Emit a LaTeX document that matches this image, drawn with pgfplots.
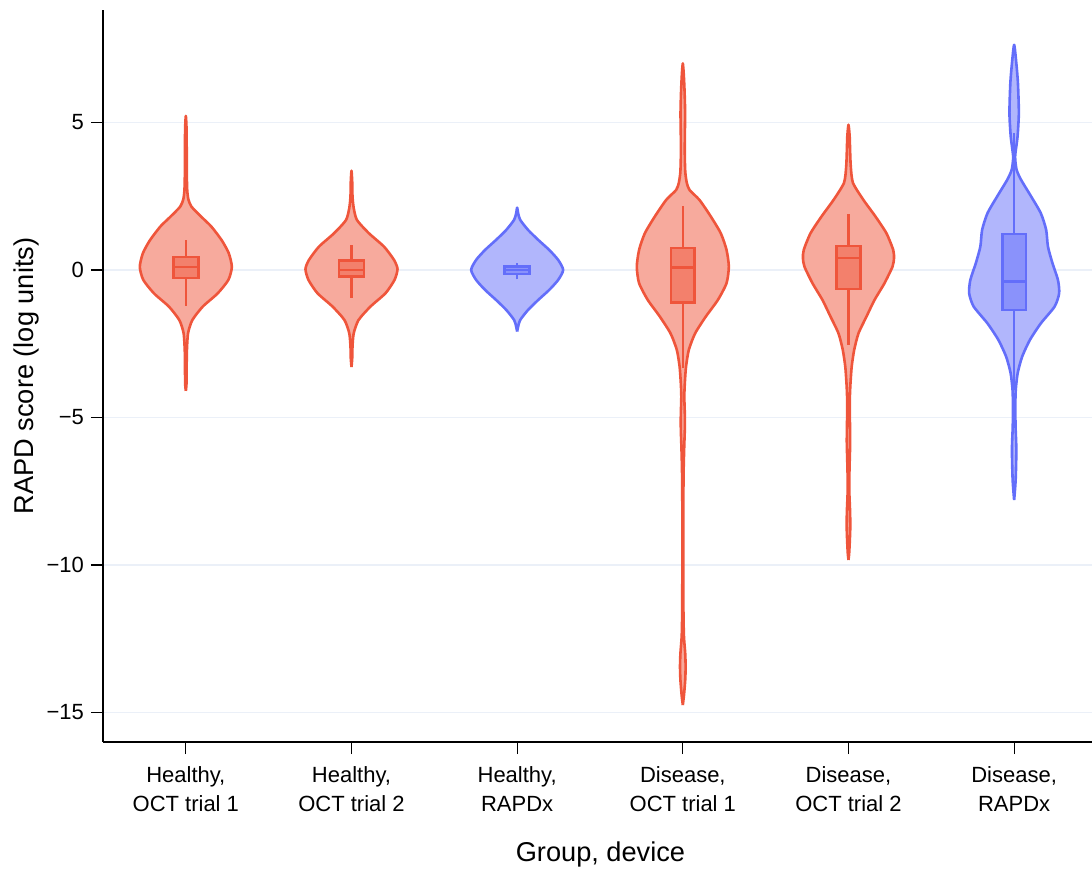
\documentclass[border=0pt]{standalone}
\usepackage{pgfplots}
\usepackage{pgfplotstable}
\pgfplotsset{compat=1.18}
\usepackage{fontspec}
\setmainfont{Liberation Sans}
\definecolor{vred}{RGB}{239,85,59}
\definecolor{vredfill}{RGB}{247,170,157}
\definecolor{vredbox}{RGB}{243,128,108}
\definecolor{vblue}{RGB}{99,110,250}
\definecolor{vbluefill}{RGB}{177,182,252}
\definecolor{vbluebox}{RGB}{138,146,251}
\definecolor{gridc}{RGB}{235,240,248}

% violin outlines: y value, half width in pixels (1 category = 165.6 px), side s
\pgfplotstableread{
y w s
-4.1 0 1
-3.9 0.6 1
-3.5 0.8 1
-2.8 1 1
-2.15 2.2 1
-1.7 6.5 1
-1.24 17 1
-0.8 31.7 1
-0.34 42.5 1
0.1 46 1
0.56 43 1
1.0 36 1
1.47 25.5 1
1.8 15.5 1
2.15 5.5 1
2.4 2.5 1
2.7 1.4 1
3.2 1 1
4.0 0.9 1
4.8 0.7 1
5.22 0 1
4.8 0.7 -1
4.0 0.9 -1
3.2 1 -1
2.7 1.4 -1
2.4 2.5 -1
2.15 5.5 -1
1.8 15.5 -1
1.47 25.5 -1
1.0 36 -1
0.56 43 -1
0.1 46 -1
-0.34 42.5 -1
-0.8 31.7 -1
-1.24 17 -1
-1.7 6.5 -1
-2.15 2.2 -1
-2.8 1 -1
-3.5 0.8 -1
-3.9 0.6 -1
-4.1 0 -1
}\vA
\pgfplotstableread{
y w s
-3.29 0 1
-3.0 0.7 1
-2.6 1 1
-2.15 2.2 1
-1.7 7 1
-1.24 19 1
-0.79 34 1
-0.34 43 1
0.03 46 1
0.34 42.5 1
0.79 32.5 1
1.24 17.5 1
1.69 5.5 1
2.1 2.2 1
2.5 1 1
3.0 0.7 1
3.36 0 1
3.0 0.7 -1
2.5 1 -1
2.1 2.2 -1
1.69 5.5 -1
1.24 17.5 -1
0.79 32.5 -1
0.34 42.5 -1
0.03 46 -1
-0.34 43 -1
-0.79 34 -1
-1.24 19 -1
-1.7 7 -1
-2.15 2.2 -1
-2.6 1 -1
-3.0 0.7 -1
-3.29 0 -1
}\vB
\pgfplotstableread{
y w s
-2.09 0 1
-1.92 1 1
-1.7 3 1
-1.36 10.8 1
-1.02 21 1
-0.68 32 1
-0.34 41 1
0.0 46 1
0.34 41 1
0.68 32 1
1.02 21 1
1.36 10.8 1
1.7 3 1
1.92 1 1
2.11 0 1
1.92 1 -1
1.7 3 -1
1.36 10.8 -1
1.02 21 -1
0.68 32 -1
0.34 41 -1
0.0 46 -1
-0.34 41 -1
-0.68 32 -1
-1.02 21 -1
-1.36 10.8 -1
-1.7 3 -1
-1.92 1 -1
-2.09 0 -1
}\vC
\pgfplotstableread{
y w s
-14.75 0 1
-14.4 1.2 1
-13.9 2.4 1
-13.45 2.8 1
-13.0 2.4 1
-12.4 1.1 1
-11.5 0.6 1
-10 0.5 1
-8 0.5 1
-6.8 0.8 1
-6.0 1.4 1
-5.4 2 1
-4.9 2 1
-4.3 1.5 1
-3.84 2 1
-3.28 3.2 1
-2.71 6 1
-2.15 12.3 1
-1.58 23 1
-1.02 35 1
-0.45 43.7 1
0.11 46 1
0.68 43.7 1
1.24 38 1
1.81 28 1
2.37 16.7 1
2.71 6.7 1
2.95 4 1
3.3 2.5 1
3.8 2 1
4.5 2 1
5.3 2.3 1
6.0 1.8 1
6.6 1 1
7.0 0 1
6.6 1 -1
6.0 1.8 -1
5.3 2.3 -1
4.5 2 -1
3.8 2 -1
3.3 2.5 -1
2.95 4 -1
2.71 6.7 -1
2.37 16.7 -1
1.81 28 -1
1.24 38 -1
0.68 43.7 -1
0.11 46 -1
-0.45 43.7 -1
-1.02 35 -1
-1.58 23 -1
-2.15 12.3 -1
-2.71 6 -1
-3.28 3.2 -1
-3.84 2 -1
-4.3 1.5 -1
-4.9 2 -1
-5.4 2 -1
-6.0 1.4 -1
-6.8 0.8 -1
-8 0.5 -1
-10 0.5 -1
-11.5 0.6 -1
-12.4 1.1 -1
-13.0 2.4 -1
-13.45 2.8 -1
-13.9 2.4 -1
-14.4 1.2 -1
-14.75 0 -1
}\vD
\pgfplotstableread{
y w s
-9.83 0 1
-9.6 0.7 1
-9.2 1.3 1
-8.7 1.8 1
-8.2 1.6 1
-7.6 0.9 1
-7.1 0.8 1
-6.5 1.2 1
-5.8 1.7 1
-5.0 1.4 1
-4.3 1.4 1
-3.84 2 1
-3.28 3.2 1
-2.71 5.7 1
-2.15 10 1
-1.58 18 1
-1.02 26 1
-0.45 36 1
0.11 44 1
0.4 45.5 1
0.68 44.7 1
1.24 38 1
1.81 27 1
2.37 15 1
2.95 4.5 1
3.5 2.3 1
4.07 1.6 1
4.52 1.2 1
4.92 0 1
4.52 1.2 -1
4.07 1.6 -1
3.5 2.3 -1
2.95 4.5 -1
2.37 15 -1
1.81 27 -1
1.24 38 -1
0.68 44.7 -1
0.4 45.5 -1
0.11 44 -1
-0.45 36 -1
-1.02 26 -1
-1.58 18 -1
-2.15 10 -1
-2.71 5.7 -1
-3.28 3.2 -1
-3.84 2 -1
-4.3 1.4 -1
-5.0 1.4 -1
-5.8 1.7 -1
-6.5 1.2 -1
-7.1 0.8 -1
-7.6 0.9 -1
-8.2 1.6 -1
-8.7 1.8 -1
-9.2 1.3 -1
-9.6 0.7 -1
-9.83 0 -1
}\vE
\pgfplotstableread{
y w s
-7.8 0 1
-7.12 1.5 1
-6.1 2.2 1
-5.3 1.4 1
-4.6 1.2 1
-4.07 1.6 1
-3.5 3.5 1
-2.94 8 1
-2.37 15.8 1
-1.81 26.7 1
-1.24 40.5 1
-0.79 45 1
-0.34 43.8 1
0.23 38.3 1
0.79 33.8 1
1.36 32 1
1.92 26.7 1
2.49 17 1
3.05 7 1
3.39 2.5 1
3.84 1 1
4.52 3.4 1
5.32 4.7 1
6.33 3.8 1
7.0 2.2 1
7.63 0 1
7.0 2.2 -1
6.33 3.8 -1
5.32 4.7 -1
4.52 3.4 -1
3.84 1 -1
3.39 2.5 -1
3.05 7 -1
2.49 17 -1
1.92 26.7 -1
1.36 32 -1
0.79 33.8 -1
0.23 38.3 -1
-0.34 43.8 -1
-0.79 45 -1
-1.24 40.5 -1
-1.81 26.7 -1
-2.37 15.8 -1
-2.94 8 -1
-3.5 3.5 -1
-4.07 1.6 -1
-4.6 1.2 -1
-5.3 1.4 -1
-6.1 2.2 -1
-7.12 1.5 -1
-7.8 0 -1
}\vF

% #1 table, #2 centre, #3 line colour, #4 fill colour
\newcommand{\violin}[4]{%
  \addplot[draw=#3, fill=#4, line width=1.3pt, smooth, tension=0.4, line join=round]
    table[x expr=#2+\thisrow{s}*\thisrow{w}/165.6, y=y]{#1};
}
% #1 centre, #2 half width, #3 lower whisker, #4 q1, #5 median, #6 q3, #7 upper whisker, #8 colour, #9 fill
\newcommand{\vbx}[9]{%
  \addplot[draw=#8, line width=1.3pt] table[row sep=\\, x expr=#1, y=y] {y\\ #3\\ #4\\};
  \addplot[draw=#8, line width=1.3pt] table[row sep=\\, x expr=#1, y=y] {y\\ #6\\ #7\\};
  \addplot[draw=#8, fill=#9, line width=1.3pt, line join=miter, line cap=rect]
    table[row sep=\\, x expr=#1+\thisrow{d}*#2, y=y] {d y\\ -1 #4\\ 1 #4\\ 1 #6\\ -1 #6\\ -1 #4\\};
  \addplot[draw=#8, line width=1.3pt]
    table[row sep=\\, x expr=#1+\thisrow{d}*#2, y=y] {d y\\ -1 #5\\ 1 #5\\};
}

\begin{document}
\begin{tikzpicture}
\path[use as bounding box] (-51.5pt,-67.5pt) rectangle (494.5pt,371pt);
\begin{axis}[
  at={(0,0)}, anchor=south west,
  scale only axis,
  width=494.5pt, height=366pt,
  xmin=-0.5, xmax=5.47,
  ymin=-16.0, ymax=8.81,
  axis x line*=bottom, axis y line*=left,
  axis line style={line width=0.9pt, black},
  xtick={0,1,2,3,4,5},
  xticklabels={{Healthy,\\OCT trial 1},{Healthy,\\OCT trial 2},{Healthy,\\RAPDx},{Disease,\\OCT trial 1},{Disease,\\OCT trial 2},{Disease,\\RAPDx}},
  ytick={-15,-10,-5,0,5},
  yticklabels={−15,−10,−5,0,5},
  tick align=outside,
  major tick length=6pt,
  tick style={black, line width=0.6pt},
  x tick label style={align=center, font=\fontsize{11}{14.5}\selectfont, yshift=-2.5pt},
  y tick label style={font=\fontsize{11}{13.5}\selectfont},
  ymajorgrids,
  grid style={gridc, line width=0.7pt},
  xlabel={Group, device},
  ylabel={RAPD score (log units)},
  xlabel style={at={(axis description cs:0.503,-0.1639)}, anchor=base, font=\fontsize{13.6}{16}\selectfont},
  ylabel style={at={(axis description cs:-0.0774,0.5)}, anchor=center, font=\fontsize{13.6}{16}\selectfont},
  clip=false,
]
\violin{\vA}{0}{vred}{vredfill}
\violin{\vB}{1}{vred}{vredfill}
\violin{\vC}{2}{vblue}{vbluefill}
\violin{\vD}{3}{vred}{vredfill}
\violin{\vE}{4}{vred}{vredfill}
\violin{\vF}{5}{vblue}{vbluefill}

\vbx{0}{0.075}{-1.22}{-0.27}{0.1}{0.44}{1.0}{vred}{vredbox}
\vbx{1}{0.075}{-0.95}{-0.22}{0.0}{0.31}{0.85}{vred}{vredbox}
\vbx{2}{0.075}{-0.32}{-0.14}{0.0}{0.11}{0.25}{vblue}{vbluebox}
\vbx{3}{0.071}{-3.33}{-1.11}{0.09}{0.74}{2.15}{vred}{vredbox}
\vbx{4}{0.072}{-2.54}{-0.65}{0.4}{0.81}{1.9}{vred}{vredbox}
\vbx{5}{0.072}{-4.07}{-1.36}{-0.4}{1.22}{4.64}{vblue}{vbluebox}
\end{axis}
\end{tikzpicture}
\end{document}
